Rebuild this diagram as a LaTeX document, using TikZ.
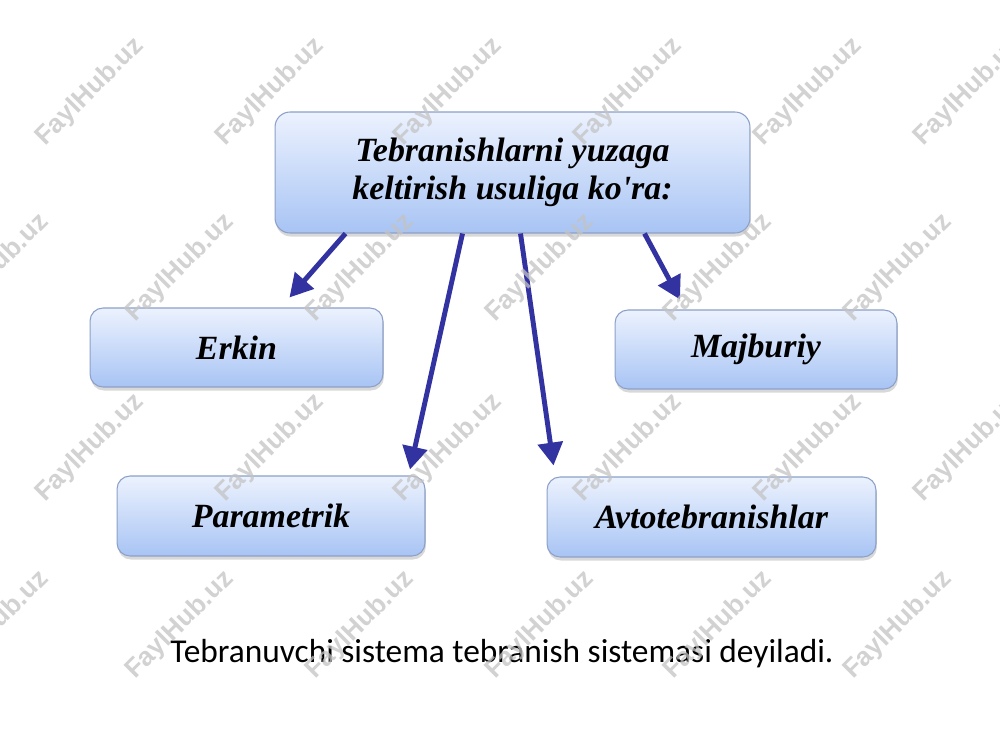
\documentclass[tikz,border=0pt]{standalone}
\usepackage{fontspec}
\newfontfamily\timesfont{Liberation Serif}[BoldItalicFont={Liberation Serif Bold Italic}, BoldFont={Liberation Serif Bold}, ItalicFont={Liberation Serif Italic}]
\newfontfamily\calibrifont{Carlito}
\newfontfamily\wmfont{Liberation Sans}
\usetikzlibrary{arrows.meta,shadows,calc}
\definecolor{boxtop}{RGB}{236,242,254}
\definecolor{boxbot}{RGB}{168,196,244}
\definecolor{boxedge}{RGB}{140,160,200}
\definecolor{arrowblue}{RGB}{50,50,160}
\definecolor{wmgray}{RGB}{195,195,195}
\tikzset{
  catbox/.style={draw=boxedge, line width=0.6pt, rounded corners=0.26cm,
    top color=boxtop, bottom color=boxbot, align=center,
    font=\timesfont\bfseries\itshape\fontsize{19.3}{22}\selectfont,
    drop shadow={opacity=0.3, shadow xshift=0.5pt, shadow yshift=-2pt}},
  flow/.style={draw=arrowblue, line width=2.8pt,
    -{Triangle[length=13pt,width=14pt]}},
  wm/.style={text=wmgray, text opacity=0.75, rotate=45,
    font=\wmfont\fontsize{15}{15}\selectfont\bfseries}
}
\begin{document}
\begin{tikzpicture}[x=0.02cm,y=-0.02cm]
\useasboundingbox[fill=white] (0,0) rectangle (1000,750);

\node[catbox, minimum width=9.5cm, minimum height=2.42cm, rounded corners=0.3cm,
  font=\timesfont\bfseries\itshape\fontsize{19.3}{21.5}\selectfont]
  (top) at (512.5,172.5) {\rule{0pt}{10pt}Tebranishlarni yuzaga\\keltirish usuliga ko\symbol{39}ra:};
\node[catbox, minimum width=5.86cm, minimum height=1.58cm] (erkin) at (236.5,347.5) {Erkin};
\node[catbox, minimum width=5.64cm, minimum height=1.58cm] (majburiy) at (756,349.5) {Majburiy};
\node[catbox, minimum width=6.16cm, minimum height=1.6cm] (parametrik) at (271,516) {Parametrik};
\node[catbox, minimum width=6.58cm, minimum height=1.6cm] (avto) at (711.5,517) {Avtotebranishlar};

\draw[flow] ($(top.south)+(-167,0)$) -- ($(erkin.north)+(53,-10)$);
\draw[flow] ($(top.south)+(-50,0)$) -- ($(parametrik.north)+(139,-6)$);
\draw[flow] ($(top.south)+(8,0)$) -- ($(avto.north)+(-158,-11)$);
\draw[flow] ($(top.south)+(132,0)$) -- ($(majburiy.north)+(-76,-10)$);

\node[font=\calibrifont\fontsize{19}{22}\selectfont, anchor=base] (caption) at (502,662)
  {Tebranuvchi sistema tebranish sistemasi deyiladi.};

\foreach \x in {90,270,448,628,808,968} {
  \node[wm] at (\x,92) {FaylHub.uz};
  \node[wm] at (\x,448) {FaylHub.uz};
}
\foreach \x in {-5,180,360,540,718,898} {
  \node[wm] at (\x,268) {FaylHub.uz};
  \node[wm] at (\x,625) {FaylHub.uz};
}
\end{tikzpicture}
\end{document}
